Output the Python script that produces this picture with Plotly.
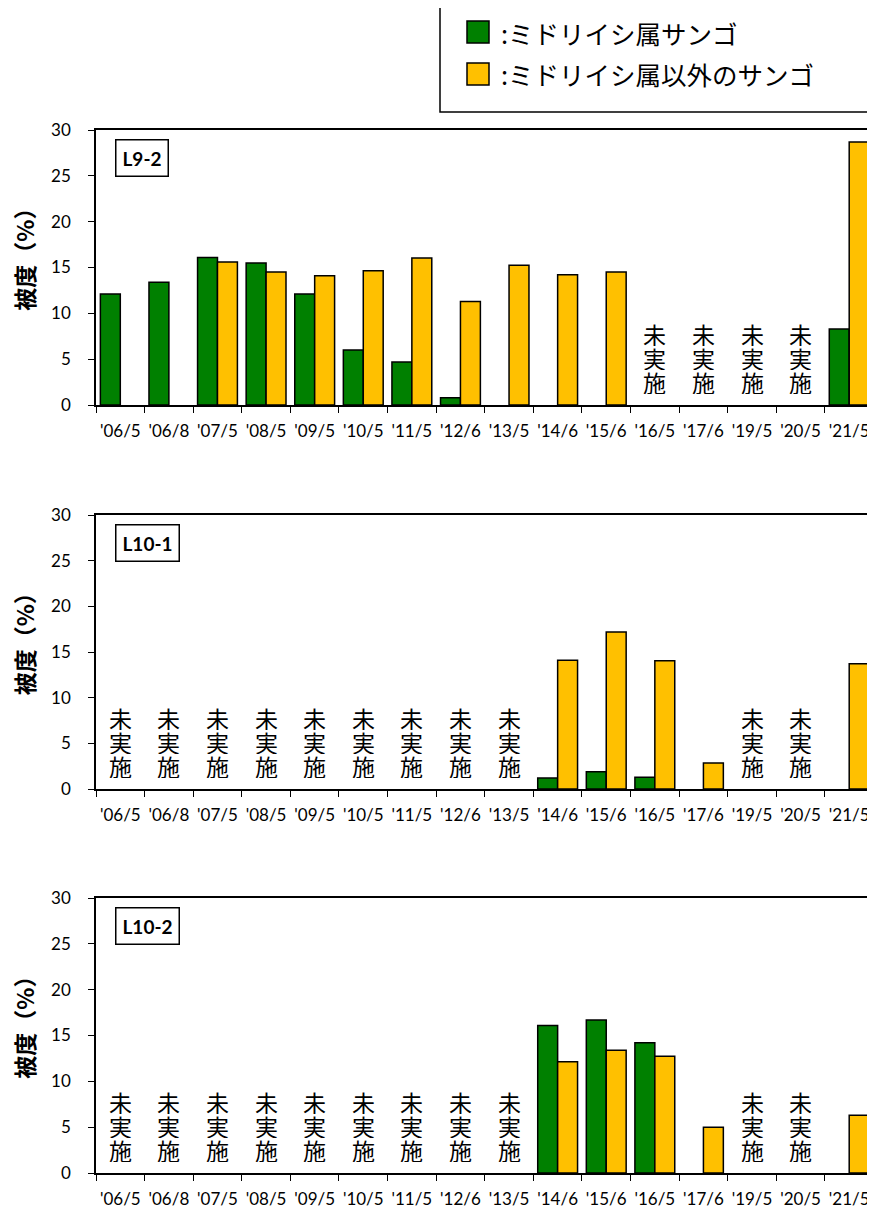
import plotly.graph_objects as go
from plotly.subplots import make_subplots

categories = ["'06/5", "'06/8", "'07/5", "'08/5", "'09/5", "'10/5", "'11/5", "'12/6",
              "'13/5", "'14/6", "'15/6", "'16/5", "'17/6", "'19/5", "'20/5", "'21/5"]

series_names = [":ミドリイシ属サンゴ", ":ミドリイシ属以外のサンゴ"]
panel_names = ["L9-2", "L10-1", "L10-2"]

# L9-2
l92_green = [12.1, 13.4, 16.1, 15.5, 12.1, 6.0, 4.7, 0.8, None, None, None, None, None, None, None, 8.3]
l92_other = [None, None, 15.6, 14.5, 14.1, 14.65, 16.05, 11.3, 15.25, 14.2, 14.5, None, None, None, None, 28.7]
l92_skip = ["'16/5", "'17/6", "'19/5", "'20/5"]

# L10-1
l101_green = [None, None, None, None, None, None, None, None, None, 1.2, 1.9, 1.3, None, None, None, None]
l101_other = [None, None, None, None, None, None, None, None, None, 14.1, 17.2, 14.05, 2.85, None, None, 13.7]
l101_skip = ["'06/5", "'06/8", "'07/5", "'08/5", "'09/5", "'10/5", "'11/5", "'12/6", "'13/5", "'19/5", "'20/5"]

# L10-2
l102_green = [None, None, None, None, None, None, None, None, None, 16.1, 16.7, 14.2, None, None, None, None]
l102_other = [None, None, None, None, None, None, None, None, None, 12.15, 13.4, 12.75, 5.0, None, None, 6.3]
l102_skip = ["'06/5", "'06/8", "'07/5", "'08/5", "'09/5", "'10/5", "'11/5", "'12/6", "'13/5", "'19/5", "'20/5"]

panels = [(l92_green, l92_other, l92_skip),
          (l101_green, l101_other, l101_skip),
          (l102_green, l102_other, l102_skip)]

GREEN = "#008000"
YELLOW = "#FFC000"
# page body has an 8px margin, so the figure is shifted by 8px
OFF = 8
W, H = 875 - OFF, 1214 - OFF
TICK_FONT = dict(family="Lato, Open Sans, sans-serif", size=17, color="black")
JP = "Noto Sans CJK JP"


def px(x):
    return (x - OFF) / W


def py(y):
    return 1 - (y - OFF) / H


fig = make_subplots(rows=3, cols=1)

for i, (g, o, skip) in enumerate(panels):
    row = i + 1
    fig.add_trace(go.Bar(x=categories, y=g, name=series_names[0], marker_color=GREEN,
                         marker_line_color="black", marker_line_width=1.5,
                         showlegend=False), row=row, col=1)
    fig.add_trace(go.Bar(x=categories, y=o, name=series_names[1], marker_color=YELLOW,
                         marker_line_color="black", marker_line_width=1.5,
                         showlegend=False), row=row, col=1)
    xr = "x" if row == 1 else "x%d" % row
    yr = "y" if row == 1 else "y%d" % row
    # 未実施 (not surveyed) labels, stacked vertically one glyph per line
    for c in skip:
        for k, ch in enumerate("未実施"):
            fig.add_annotation(x=c, y=5.1, xref=xr, yref=yr, text=ch, showarrow=False,
                               yshift=(1 - k) * 24, height=24, valign="middle",
                               font=dict(family=JP, size=23, color="black"))
    # station label box
    fig.add_annotation(x=0.025, y=0.966, xref=xr + " domain", yref=yr + " domain",
                       xanchor="left", yanchor="top", showarrow=False,
                       text="<b>%s</b>" % panel_names[i],
                       font=dict(family="Lato, Open Sans, sans-serif", size=19, color="black"),
                       bordercolor="black", borderwidth=1.5, borderpad=6, bgcolor="white")
    # y title
    fig.add_annotation(x=px(24), y=0.55, xref="paper", yref=yr + " domain",
                       xanchor="center", yanchor="middle",
                       text="<b>被度（%）</b>", textangle=-90, showarrow=False,
                       font=dict(family=JP, size=23, color="black"))

# panel positions in reference pixels (top, bottom)
rows_px = [(130, 405), (515, 789), (898, 1173)]
x_dom = [px(96), px(873.5)]
for i, (top, bot) in enumerate(rows_px):
    n = "" if i == 0 else str(i + 1)
    fig.layout["xaxis" + n].update(
        domain=x_dom, type="category", showline=True, linecolor="black", linewidth=1.5,
        mirror=True, ticks="outside", tickson="boundaries", ticklen=6, tickcolor="black",
        tickwidth=1.2, showgrid=False, tickfont=TICK_FONT, ticklabelstandoff=10,
        tickangle=0, automargin=False)
    fig.layout["yaxis" + n].update(
        domain=[py(bot), py(top)], range=[0, 30], dtick=5, showline=True,
        linecolor="black", linewidth=1.5, mirror=True, ticks="outside", ticklen=6,
        tickcolor="black", tickwidth=1.2, showgrid=False, zeroline=False,
        tickfont=TICK_FONT, ticklabelstandoff=14, automargin=False)

# legend box drawn by hand
fig.add_shape(type="rect", xref="paper", yref="paper",
              x0=px(440), x1=px(873.5), y0=py(112), y1=py(5),
              line=dict(color="black", width=1.5), fillcolor="white")
for k, (col, yc) in enumerate([(GREEN, 32), (YELLOW, 74)]):
    fig.add_shape(type="rect", xref="paper", yref="paper",
                  x0=px(467), x1=px(489), y0=py(yc + 11), y1=py(yc - 11),
                  line=dict(color="black", width=1.5), fillcolor=col)
    fig.add_annotation(x=px(499), y=py(yc), xref="paper", yref="paper",
                       xanchor="left", yanchor="middle", showarrow=False,
                       text=series_names[k], font=dict(family=JP, size=25.5, color="black"))

fig.update_layout(
    width=W, height=H, barmode="group", bargap=0.18, bargroupgap=0,
    margin=dict(l=0, r=0, t=0, b=0, autoexpand=False),
    plot_bgcolor="white", paper_bgcolor="white",
    showlegend=False,
)

fig.write_html("out.html")
